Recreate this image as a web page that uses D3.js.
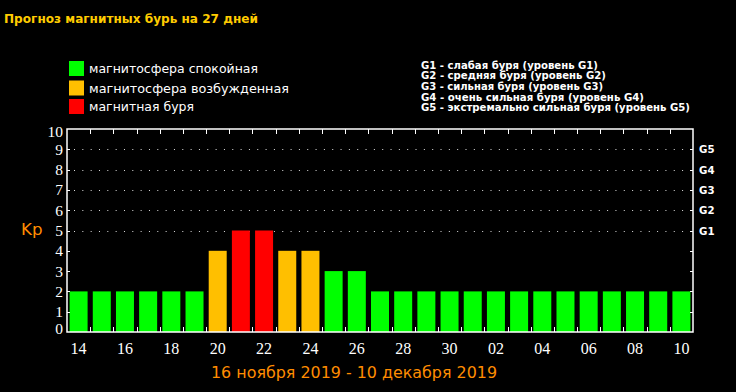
<!DOCTYPE html>
<html><head><meta charset="utf-8">
<script src="https://cdn.jsdelivr.net/npm/d3@7"></script>
<style>html,body{margin:0;padding:0;background:#000;}svg{display:block;}</style>
</head><body>
<script>
const days = ["14","15","16","17","18","19","20","21","22","23","24","25","26","27","28","29","30","01","02","03","04","05","06","07","08","09","10"];
const kp = [2,2,2,2,2,2,4,5,5,4,4,3,3,2,2,2,2,2,2,2,2,2,2,2,2,2,2];
const yTicks = [0,1,2,3,4,5,6,7,8,9,10];
const gridLevels = [5,6,7,8,9];
const gLabels = ["G1","G2","G3","G4","G5"];
const legendItems = ["магнитосфера спокойная","магнитосфера возбужденная","магнитная буря"];
const gLegend = ["G1 - слабая буря (уровень G1)","G2 - средняя буря (уровень G2)","G3 - сильная буря (уровень G3)","G4 - очень сильная буря (уровень G4)","G5 - экстремально сильная буря (уровень G5)"];
const title = "Прогноз магнитных бурь на 27 дней";
const subtitle = "16 ноября 2019 - 10 декабря 2019";

const W = 736, H = 392;
const colors = {quiet:"#00FF00", active:"#FFBF00", storm:"#FF0000"};
const legendColors = [colors.quiet, colors.active, colors.storm];
const colorFor = v => v >= 5 ? colors.storm : (v >= 4 ? colors.active : colors.quiet);

const svg = d3.select("body").append("svg").attr("width", W).attr("height", H);
svg.append("rect").attr("width", W).attr("height", H).attr("fill", "#000");

const x = d3.scaleBand().domain(days.map((d,i)=>i)).range([67, 693]).paddingInner(0.224).paddingOuter(0.112);
const y = d3.scaleLinear().domain([0,10]).range([332, 129]);
const x0 = 67, x1 = 693;
const step = (x1 - x0) / days.length;

// title
svg.append("text").attr("x", 4).attr("y", 23).text(title)
  .attr("fill", "#FFCC00").attr("font-family", "DejaVu Sans, Verdana, sans-serif")
  .attr("font-weight", "bold").attr("font-size", 12.5)
  .attr("textLength", 254).attr("lengthAdjust", "spacingAndGlyphs");

// legend left
const legW = [169, 200, 105];
const legY = [61, 80.5, 99];
legendItems.forEach((t,i) => {
  svg.append("rect").attr("x", 69).attr("y", legY[i]).attr("width", 15).attr("height", 15).attr("fill", legendColors[i]);
  svg.append("text").attr("x", 89).attr("y", legY[i] + 12).text(t)
    .attr("fill", "#fff").attr("font-family", "DejaVu Sans, Verdana, sans-serif").attr("font-size", 13)
    .attr("textLength", legW[i]).attr("lengthAdjust", "spacingAndGlyphs");
});

// legend right
const gW = [177, 185, 182, 223, 269];
gLegend.forEach((t,i) => {
  svg.append("text").attr("x", 421).attr("y", 68.5 + i*10.7).text(t)
    .attr("fill", "#fff").attr("font-family", "DejaVu Sans, Verdana, sans-serif").attr("font-weight", "bold").attr("font-size", 10.5)
    .attr("textLength", gW[i]).attr("lengthAdjust", "spacingAndGlyphs");
});

// gridlines
svg.append("g").selectAll("line").data(gridLevels).join("line")
  .attr("x1", x0).attr("x2", x1).attr("y1", d => Math.round(y(d)) + 0.5).attr("y2", d => Math.round(y(d)) + 0.5)
  .attr("stroke", "#ddd").attr("stroke-width", 1).attr("stroke-dasharray", "1,7.33").attr("stroke-dashoffset", -7);

// bars
svg.append("g").selectAll("rect").data(kp).join("rect")
  .attr("x", (d,i) => x(i)).attr("width", x.bandwidth())
  .attr("y", d => y(d)).attr("height", d => y(0) - y(d))
  .attr("fill", d => colorFor(d));

// ticks: band boundaries top and bottom
const bounds = d3.range(1, days.length);
svg.append("g").selectAll("line").data(bounds).join("line")
  .attr("x1", i => Math.round(x0 + i*step) + 0.5).attr("x2", i => Math.round(x0 + i*step) + 0.5)
  .attr("y1", y(0)).attr("y2", y(0) - 5).attr("stroke", "#fff").attr("stroke-width", 1);
svg.append("g").selectAll("line").data(bounds).join("line")
  .attr("x1", i => Math.round(x0 + i*step) + 0.5).attr("x2", i => Math.round(x0 + i*step) + 0.5)
  .attr("y1", y(10)).attr("y2", y(10) + 5).attr("stroke", "#fff").attr("stroke-width", 1);
// y ticks left and right
const inner = yTicks.filter(v => v > 0 && v < 10);
svg.append("g").selectAll("line").data(inner).join("line")
  .attr("x1", x0).attr("x2", x0 + 3).attr("y1", d => Math.round(y(d)) + 0.5).attr("y2", d => Math.round(y(d)) + 0.5)
  .attr("stroke", "#fff");
svg.append("g").selectAll("line").data(inner).join("line")
  .attr("x1", x1).attr("x2", x1 - 3).attr("y1", d => Math.round(y(d)) + 0.5).attr("y2", d => Math.round(y(d)) + 0.5)
  .attr("stroke", "#fff");

// frame
svg.append("rect").attr("x", x0).attr("y", y(10)).attr("width", x1 - x0).attr("height", y(0) - y(10))
  .attr("fill", "none").attr("stroke", "#fff").attr("stroke-width", 1.5);

// y labels
svg.append("g").selectAll("text").data(yTicks).join("text")
  .attr("x", 63).attr("y", d => Math.min(Math.max(y(d), y(10) + 2.5), y(0) - 3.5))
  .attr("dy", "0.35em").attr("text-anchor", "end").text(d => d)
  .attr("fill", "#fff").attr("font-family", "Liberation Serif, Times New Roman, serif").attr("font-size", 15.5);

// x labels
svg.append("g").selectAll("text").data(days.map((d,i)=>({d,i})).filter(o => o.i % 2 === 0)).join("text")
  .attr("x", o => x(o.i) + x.bandwidth()/2).attr("y", 353.5).attr("text-anchor", "middle").text(o => o.d)
  .attr("fill", "#fff").attr("font-family", "Liberation Serif, Times New Roman, serif").attr("font-size", 16);

// G labels right
svg.append("g").selectAll("text").data(gLabels).join("text")
  .attr("x", 699).attr("y", (d,i) => y(5 + i)).attr("dy", "0.38em").text(d => d)
  .attr("fill", "#fff").attr("font-family", "DejaVu Sans, Verdana, sans-serif").attr("font-weight", "bold").attr("font-size", 11)
  .attr("textLength", 15.5).attr("lengthAdjust", "spacingAndGlyphs");

// Kp label
svg.append("text").attr("x", 21).attr("y", 234.5).text("Kp")
  .attr("fill", "#FF8C00").attr("font-family", "DejaVu Sans, Verdana, sans-serif").attr("font-size", 16)
  .attr("textLength", 21.5).attr("lengthAdjust", "spacingAndGlyphs");

// subtitle
svg.append("text").attr("x", 211).attr("y", 377.7).text(subtitle)
  .attr("fill", "#FF8C00").attr("font-family", "DejaVu Sans, Verdana, sans-serif").attr("font-size", 15)
  .attr("textLength", 286).attr("lengthAdjust", "spacingAndGlyphs");
</script>
</body></html>
